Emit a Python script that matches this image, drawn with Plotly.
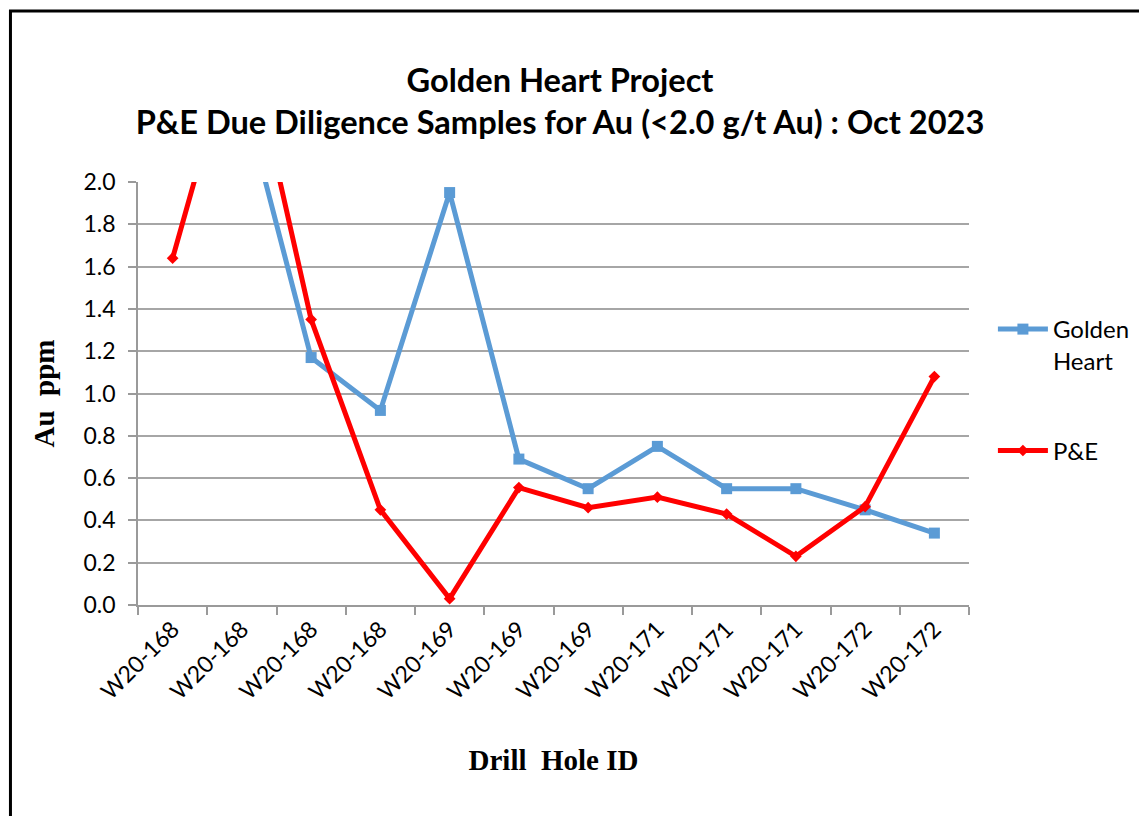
import plotly.graph_objects as go

categories = ["W20-168", "W20-168", "W20-168", "W20-168",
              "W20-169", "W20-169", "W20-169",
              "W20-171", "W20-171", "W20-171",
              "W20-172", "W20-172"]
golden_heart = [3.0, 2.43, 1.17, 0.92, 1.95, 0.69, 0.55, 0.75, 0.55, 0.55, 0.45, 0.34]
pe = [1.64, 2.8, 1.35, 0.45, 0.03, 0.555, 0.46, 0.51, 0.43, 0.23, 0.465, 1.08]
y_ticks = [0.0, 0.2, 0.4, 0.6, 0.8, 1.0, 1.2, 1.4, 1.6, 1.8, 2.0]

x = list(range(len(categories)))

OFF = 8  # page body margin
W, H = 1147 - OFF, 816 - OFF
ML, MT = 138 - OFF, 182 - OFF
MR = W - (972 - OFF)
MB = H - (605 - OFF)
pw, ph = W - ML - MR, H - MT - MB


def px_x(p):
    return (p - OFF - ML) / pw


def px_y(p):
    return 1 - (p - OFF - MT) / ph


fig = go.Figure()
fig.add_trace(go.Scatter(
    x=x, y=golden_heart, name="Golden<br>Heart", mode="lines+markers",
    line=dict(color="#5B9BD5", width=5),
    marker=dict(symbol="square", size=11, color="#5B9BD5"),
    legendgroup="gh", cliponaxis=True))
fig.add_trace(go.Scatter(
    x=x, y=pe, name="P&E", mode="lines+markers",
    line=dict(color="#FF0000", width=5),
    marker=dict(symbol="diamond", size=9, color="#FF0000"),
    legendgroup="pe", cliponaxis=True))

fig.update_layout(
    width=W, height=H,
    margin=dict(l=ML, r=MR, t=MT, b=MB),
    paper_bgcolor="white", plot_bgcolor="white",
    title=dict(
        text="Golden Heart Project<br>P&E Due Diligence Samples for Au (<2.0 g/t Au) : Oct 2023",
        x=(560 - OFF) / W, xanchor="center", y=1 - (92 - OFF) / H, yanchor="middle",
        font=dict(family="Lato", size=32.6, color="black", weight="bold")),
    xaxis=dict(
        range=[-0.5, len(categories) - 0.5],
        tickmode="array", tickvals=x, ticktext=categories,
        tickangle=-45, ticks="", ticklen=0,
        tickfont=dict(family="Lato", size=23, color="black"),
        showgrid=False, zeroline=False,
        showline=True, linecolor="#9a9a9a", linewidth=1.5,
        minor=dict(tickmode="linear", tick0=-0.5, dtick=1, ticks="outside",
                   ticklen=8, tickcolor="#9a9a9a", tickwidth=1.5, showgrid=False),
        title=dict(text="Drill  Hole ID", standoff=46,
                   font=dict(family="Liberation Serif", size=29, color="black", weight="bold")),
    ),
    yaxis=dict(
        range=[0, 2.0], tickmode="array", tickvals=y_ticks,
        ticktext=[f"{v:.1f}" for v in y_ticks],
        ticks="outside", ticklen=8, tickcolor="#9a9a9a", tickwidth=1.5,
        ticklabelstandoff=8,
        tickfont=dict(family="Lato", size=23, color="black"),
        showgrid=True, gridcolor="#a6a6a6", gridwidth=1.5,
        zeroline=False, showline=True, linecolor="#9a9a9a", linewidth=1.5,
        title=dict(text="Au  ppm", standoff=20,
                   font=dict(family="Liberation Serif", size=29, color="black", weight="bold")),
    ),
    legend=dict(
        x=px_x(996), xanchor="left", y=px_y(307), yanchor="top",
        font=dict(family="Lato", size=24, color="black"),
        tracegroupgap=56, valign="top", bgcolor="rgba(0,0,0,0)",
        itemwidth=50),
    showlegend=True,
    shapes=[dict(type="rect", xref="paper", yref="paper",
                 x0=px_x(10), x1=px_x(1200),
                 y0=px_y(900), y1=px_y(11),
                 line=dict(color="black", width=3), fillcolor="rgba(0,0,0,0)",
                 layer="below")],
)

fig.write_html("out.html")
